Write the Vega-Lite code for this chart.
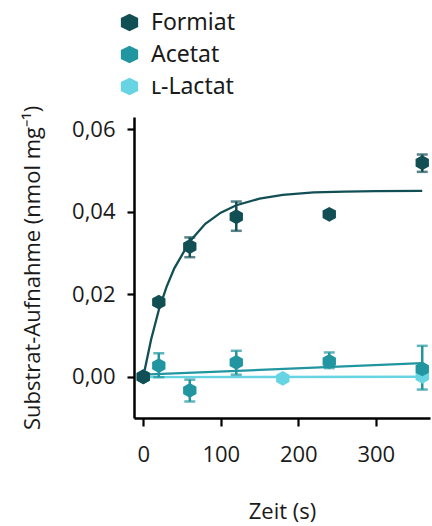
{
  "$schema": "https://vega.github.io/schema/vega-lite/v6.json",
  "autosize": {"type": "none"},
  "padding": {"left": 134, "top": 117, "right": 2, "bottom": 108},
  "width": 296,
  "height": 301,
  "background": "white",
  "config": {
    "view": {"stroke": null},
    "font": "Open Sans",
    "axis": {
      "domainColor": "black", "domainWidth": 2.5, "tickColor": "black", "tickWidth": 2.2,
      "labelColor": "#1a1a1a", "titleColor": "#1a1a1a", "labelFontSize": 22, "titleFontSize": 22,
      "titleFontWeight": "normal", "grid": false, "labelFont": "Open Sans", "titleFont": "Open Sans"
    }
  },
  "datasets": {
    "pts": [
      {"series": "ʟ-Lactat", "t": 0, "y": 0.0, "lo": null, "hi": null},
      {"series": "ʟ-Lactat", "t": 180, "y": -0.0004, "lo": null, "hi": null},
      {"series": "ʟ-Lactat", "t": 360, "y": 0.0001, "lo": -0.0005, "hi": 0.0007},
      {"series": "Acetat", "t": 0, "y": 0.0, "lo": null, "hi": null},
      {"series": "Acetat", "t": 20, "y": 0.0027, "lo": -0.0001, "hi": 0.0057},
      {"series": "Acetat", "t": 60, "y": -0.0033, "lo": -0.006, "hi": -0.0007},
      {"series": "Acetat", "t": 120, "y": 0.0035, "lo": 0.0005, "hi": 0.0063},
      {"series": "Acetat", "t": 240, "y": 0.0037, "lo": 0.0021, "hi": 0.0059},
      {"series": "Acetat", "t": 360, "y": 0.0019, "lo": -0.0031, "hi": 0.0075},
      {"series": "Formiat", "t": 0, "y": 0.0, "lo": null, "hi": null},
      {"series": "Formiat", "t": 20, "y": 0.0181, "lo": 0.0173, "hi": 0.0189},
      {"series": "Formiat", "t": 60, "y": 0.0316, "lo": 0.029, "hi": 0.0338},
      {"series": "Formiat", "t": 120, "y": 0.0388, "lo": 0.0354, "hi": 0.0425},
      {"series": "Formiat", "t": 240, "y": 0.0394, "lo": null, "hi": null},
      {"series": "Formiat", "t": 360, "y": 0.0519, "lo": 0.0497, "hi": 0.0539}
    ],
    "fit": [
      {"series": "ʟ-Lactat", "t": 0, "y": -0.0001},
      {"series": "ʟ-Lactat", "t": 360, "y": 0.0000},
      {"series": "Acetat", "t": 0, "y": 0.0005},
      {"series": "Acetat", "t": 360, "y": 0.0033},
      {"series": "Formiat", "t": 0, "y": 0.0},
      {"series": "Formiat", "t": 10, "y": 0.0090},
      {"series": "Formiat", "t": 20, "y": 0.0162},
      {"series": "Formiat", "t": 30, "y": 0.0218},
      {"series": "Formiat", "t": 40, "y": 0.0263},
      {"series": "Formiat", "t": 60, "y": 0.0328},
      {"series": "Formiat", "t": 80, "y": 0.0371},
      {"series": "Formiat", "t": 100, "y": 0.0398},
      {"series": "Formiat", "t": 120, "y": 0.0416},
      {"series": "Formiat", "t": 150, "y": 0.0432},
      {"series": "Formiat", "t": 180, "y": 0.0441},
      {"series": "Formiat", "t": 220, "y": 0.0447},
      {"series": "Formiat", "t": 260, "y": 0.0449},
      {"series": "Formiat", "t": 300, "y": 0.0450},
      {"series": "Formiat", "t": 360, "y": 0.0451}
    ]
  },
  "encoding": {
    "x": {
      "field": "t", "type": "quantitative",
      "scale": {"domain": [-12, 370], "nice": false, "zero": false},
      "axis": {"values": [0, 100, 200, 300], "title": "Zeit (s)", "tickSize": 8, "labelPadding": 18, "titlePadding": 36, "labelFlush": false}
    },
    "y": {
      "field": "y", "type": "quantitative",
      "scale": {"domain": [-0.01, 0.063], "nice": false, "zero": false},
      "axis": {"values": [0, 0.02, 0.04, 0.06], "format": ".2f", "labelExpr": "replace(datum.label, '.', ',')", "title": "Substrat-Aufnahme (nmol mg⁻¹)", "tickSize": 7, "labelPadding": 12, "titlePadding": 27, "labelFlush": false}
    },
    "color": {
      "field": "series", "type": "nominal",
      "scale": {"domain": ["Formiat", "Acetat", "ʟ-Lactat"], "range": ["#124f55", "#2196a0", "#66d4e2"]},
      "legend": {
        "title": null, "orient": "none", "legendX": -16, "legendY": -106,
        "symbolType": "M0,-0.95L0.95,-0.5L0.95,0.5L0,0.95L-0.95,0.5L-0.95,-0.5Z",
        "symbolSize": 330, "symbolStrokeWidth": 0, "symbolOpacity": 1,
        "labelFontSize": 23, "labelFont": "Noto Sans", "labelColor": "#1a1a1a",
        "rowPadding": 8, "labelOffset": 10, "padding": 0
      }
    }
  },
  "layer": [
    {
      "data": {"name": "fit"},
      "mark": {"type": "line", "strokeWidth": 2.3},
      "encoding": {"detail": {"field": "series"}}
    },
    {
      "data": {"name": "pts"},
      "transform": [{"filter": "datum.lo != null"}],
      "mark": {"type": "errorbar", "ticks": {"size": 11, "thickness": 2.5}, "thickness": 2.5},
      "encoding": {
        "y": {"field": "lo", "type": "quantitative"},
        "y2": {"field": "hi"}
      }
    },
    {
      "data": {"name": "pts"},
      "mark": {"type": "point", "filled": true, "opacity": 1, "size": 220, "shape": "M0,-1L0.9,-0.5L0.9,0.5L0,1L-0.9,0.5L-0.9,-0.5Z"}
    }
  ]
}
